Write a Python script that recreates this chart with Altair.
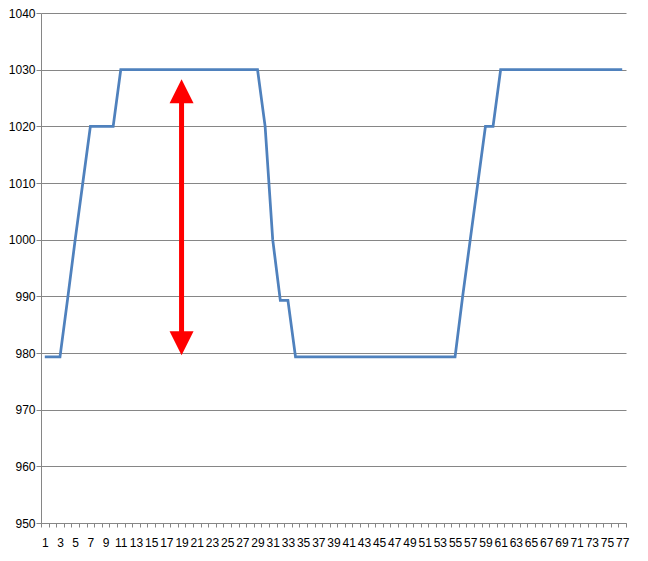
import altair as alt
import pandas as pd

categories = list(range(1, 78))
values = [
    979.3, 979.3, 979.3, 989.5, 1000, 1010, 1020, 1020, 1020, 1020,
    1030, 1030, 1030, 1030, 1030, 1030, 1030, 1030, 1030, 1030,
    1030, 1030, 1030, 1030, 1030, 1030, 1030, 1030, 1030, 1020,
    1000, 989.3, 989.3, 979.3, 979.3, 979.3, 979.3, 979.3, 979.3, 979.3,
    979.3, 979.3, 979.3, 979.3, 979.3, 979.3, 979.3, 979.3, 979.3, 979.3,
    979.3, 979.3, 979.3, 979.3, 979.3, 990, 1000, 1010, 1020, 1020,
    1030, 1030, 1030, 1030, 1030, 1030, 1030, 1030, 1030, 1030,
    1030, 1030, 1030, 1030, 1030, 1030, 1030,
]
y_ticks = [950, 960, 970, 980, 990, 1000, 1010, 1020, 1030, 1040]

arrow_x = [19]
arrow_top = [1028.3]
arrow_bottom = [979.6]

df = pd.DataFrame({"x": categories, "v": values})
arrow_df = pd.DataFrame({"x": arrow_x, "top": arrow_top, "bottom": arrow_bottom})

FONT = "Liberation Sans"
GRAY = "#868686"

x_scale = alt.Scale(type="band", domain=categories, paddingInner=0, paddingOuter=0)
y_scale = alt.Scale(domain=[950, 1040], nice=False, zero=False)

x_enc = alt.X(
    "x:O",
    scale=x_scale,
    axis=alt.Axis(
        title=None,
        labelAngle=0,
        labelOverlap=False,
        labelExpr="datum.value % 2 == 1 ? datum.label : ''",
        tickBand="extent",
        tickSize=4,
        tickColor=GRAY,
        domainColor=GRAY,
        labelPadding=10,
        labelFont=FONT,
        labelFontSize=12,
        labelColor="#000000",
        grid=False,
    ),
)

line = alt.Chart(df).mark_line(color="#4F81BD", strokeWidth=2.75).encode(
    x=x_enc,
    y=alt.Y(
        "v:Q",
        scale=y_scale,
        axis=alt.Axis(
            title=None,
            values=y_ticks,
            format="d",
            grid=True,
            gridColor=GRAY,
            gridWidth=1,
            domainColor=GRAY,
            tickColor=GRAY,
            tickSize=5,
            labelPadding=1,
            labelFont=FONT,
            labelFontSize=12,
            labelColor="#000000",
        ),
    ),
)

shaft = alt.Chart(arrow_df).mark_rule(
    color="#FF0000", strokeWidth=5, yOffset=20, y2Offset=-20
).encode(
    x=alt.X("x:O", scale=x_scale),
    y=alt.Y("top:Q", scale=y_scale),
    y2="bottom:Q",
)

head_up = alt.Chart(arrow_df).mark_point(
    shape="M0,-1L-1,1L1,1Z", size=576, filled=True, opacity=1,
    color="#FF0000", strokeWidth=0, yOffset=12
).encode(
    x=alt.X("x:O", scale=x_scale),
    y=alt.Y("top:Q", scale=y_scale),
)

head_down = alt.Chart(arrow_df).mark_point(
    shape="M0,1L-1,-1L1,-1Z", size=576, filled=True, opacity=1,
    color="#FF0000", strokeWidth=0, yOffset=-12
).encode(
    x=alt.X("x:O", scale=x_scale),
    y=alt.Y("bottom:Q", scale=y_scale),
)

chart = alt.layer(line, shaft, head_up, head_down).properties(
    width=585,
    height=510,
    autosize="none",
    padding={"left": 33, "top": 5, "right": 14, "bottom": 30},
    background="white",
).configure_view(stroke=None)

chart.save("out.html", embed_options={"renderer": "svg", "actions": False})
